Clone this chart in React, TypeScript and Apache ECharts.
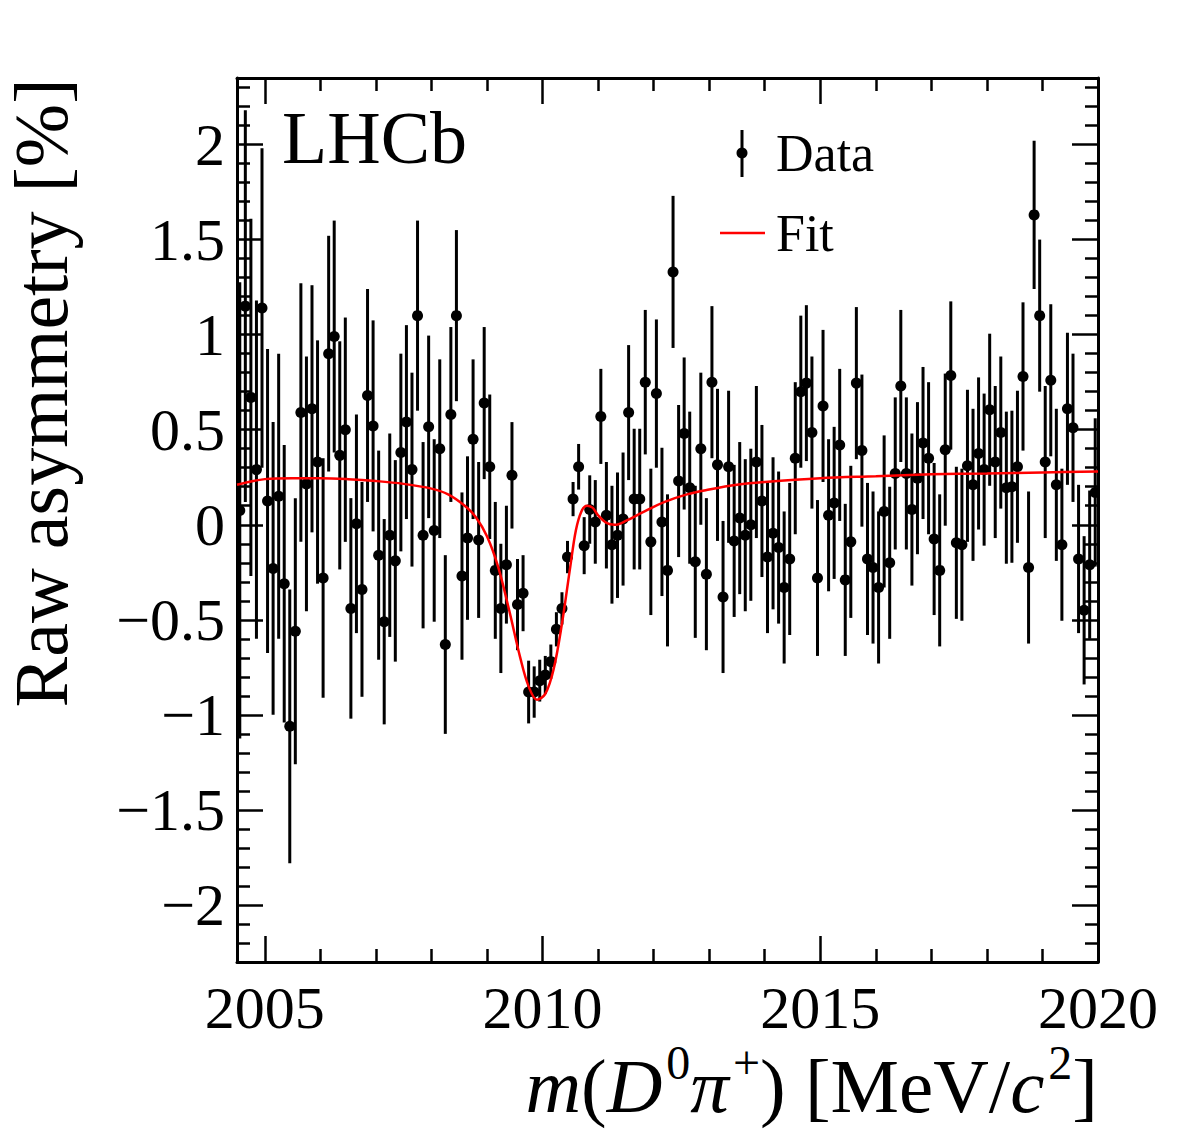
import React, { useEffect, useRef } from "react";
import * as echarts from "echarts";

// Bin centres of m(D0 pi+) in MeV/c^2 (0.1 MeV bins)
const massBins = [
  2004.55, 2004.65, 2004.75, 2004.85, 2004.95, 2005.05, 2005.15, 2005.25, 2005.35, 2005.45,
  2005.55, 2005.65, 2005.75, 2005.85, 2005.95, 2006.05, 2006.15, 2006.25, 2006.35, 2006.45,
  2006.55, 2006.65, 2006.75, 2006.85, 2006.95, 2007.05, 2007.15, 2007.25, 2007.35, 2007.45,
  2007.55, 2007.65, 2007.75, 2007.85, 2007.95, 2008.05, 2008.15, 2008.25, 2008.35, 2008.45,
  2008.55, 2008.65, 2008.75, 2008.85, 2008.95, 2009.05, 2009.15, 2009.25, 2009.35, 2009.45,
  2009.55, 2009.65, 2009.75, 2009.85, 2009.95, 2010.05, 2010.15, 2010.25, 2010.35, 2010.45,
  2010.55, 2010.65, 2010.75, 2010.85, 2010.95, 2011.05, 2011.15, 2011.25, 2011.35, 2011.45,
  2011.55, 2011.65, 2011.75, 2011.85, 2011.95, 2012.05, 2012.15, 2012.25, 2012.35, 2012.45,
  2012.55, 2012.65, 2012.75, 2012.85, 2012.95, 2013.05, 2013.15, 2013.25, 2013.35, 2013.45,
  2013.55, 2013.65, 2013.75, 2013.85, 2013.95, 2014.05, 2014.15, 2014.25, 2014.35, 2014.45,
  2014.55, 2014.65, 2014.75, 2014.85, 2014.95, 2015.05, 2015.15, 2015.25, 2015.35, 2015.45,
  2015.55, 2015.65, 2015.75, 2015.85, 2015.95, 2016.05, 2016.15, 2016.25, 2016.35, 2016.45,
  2016.55, 2016.65, 2016.75, 2016.85, 2016.95, 2017.05, 2017.15, 2017.25, 2017.35, 2017.45,
  2017.55, 2017.65, 2017.75, 2017.85, 2017.95, 2018.05, 2018.15, 2018.25, 2018.35, 2018.45,
  2018.55, 2018.65, 2018.75, 2018.85, 2018.95, 2019.05, 2019.15, 2019.25, 2019.35, 2019.45,
  2019.55, 2019.65, 2019.75, 2019.85, 2019.95,
];

// Raw asymmetry per bin [%]
const rawAsym = [
  0.075, 1.15, 0.67, 0.29, 1.14, 0.125, -0.23, 0.15, -0.31, -1.06,
  -0.56, 0.59, 0.215, 0.61, 0.33, -0.28, 0.9, 0.99, 0.365, 0.5,
  -0.44, 0.005, -0.34, 0.68, 0.52, -0.16, -0.51, -0.055, -0.19, 0.38,
  0.54, 0.29, 1.1, -0.055, 0.515, -0.03, 0.4, -0.63, 0.58, 1.1,
  -0.27, -0.07, 0.45, -0.08, 0.64, 0.305, -0.24, -0.44, -0.21, 0.26,
  -0.42, -0.36, -0.88, -0.88, -0.82, -0.79, -0.72, -0.55, -0.44, -0.17,
  0.135, 0.305, -0.11, 0.08, 0.015, 0.57, 0.05, -0.105, -0.055, 0.03,
  0.59, 0.135, 0.135, 0.75, -0.09, 0.69, 0.015, -0.24, 1.33, 0.23,
  0.48, 0.195, -0.195, 0.4, -0.26, 0.75, 0.315, -0.38, 0.305, -0.085,
  0.035, -0.055, 0.0, 0.33, 0.125, -0.17, -0.045, -0.12, -0.33, -0.18,
  0.35, 0.7, 0.745, 0.485, -0.28, 0.625, 0.05, 0.115, 0.42, -0.29,
  -0.09, 0.745, 0.39, -0.18, -0.225, -0.33, 0.07, -0.2, 0.27, 0.73,
  0.27, 0.08, 0.245, 0.43, 0.35, -0.075, -0.24, 0.395, 0.785, -0.095,
  -0.105, 0.31, 0.21, 0.375, 0.29, 0.605, 0.33, 0.485, 0.195, 0.2,
  0.305, 0.78, -0.225, 1.63, 1.1, 0.33, 0.76, 0.21, -0.105, 0.61,
  0.51, -0.18, -0.45, -0.21, 0.17,
];

// Statistical uncertainty per bin [%]
const rawAsymErr = [
  1.2, 1.03, 0.94, 0.89, 0.84, 0.8, 0.77, 0.75, 0.73, 0.72,
  0.7, 0.68, 0.67, 0.65, 0.64, 0.63, 0.62, 0.61, 0.6, 0.59,
  0.58, 0.575, 0.565, 0.56, 0.555, 0.55, 0.54, 0.535, 0.53, 0.52,
  0.51, 0.51, 0.5, 0.49, 0.48, 0.48, 0.47, 0.47, 0.46, 0.45,
  0.44, 0.43, 0.42, 0.41, 0.4, 0.38, 0.36, 0.34, 0.31, 0.28,
  0.24, 0.2, 0.165, 0.135, 0.11, 0.1, 0.09, 0.09, 0.085, 0.085,
  0.09, 0.12, 0.15, 0.18, 0.22, 0.25, 0.28, 0.31, 0.33, 0.35,
  0.355, 0.37, 0.37, 0.38, 0.385, 0.39, 0.39, 0.4, 0.4, 0.4,
  0.4, 0.4, 0.4, 0.4, 0.4, 0.4, 0.4, 0.4, 0.4, 0.4,
  0.4, 0.4, 0.4, 0.4, 0.4, 0.4, 0.4, 0.4, 0.4, 0.4,
  0.4, 0.4, 0.41, 0.4, 0.41, 0.4, 0.4, 0.4, 0.4, 0.4,
  0.4, 0.4, 0.4, 0.4, 0.4, 0.4, 0.4, 0.4, 0.4, 0.4,
  0.4, 0.4, 0.4, 0.4, 0.4, 0.4, 0.4, 0.4, 0.39, 0.4,
  0.4, 0.4, 0.4, 0.4, 0.4, 0.4, 0.4, 0.4, 0.4, 0.4,
  0.4, 0.39, 0.4, 0.39, 0.4, 0.4, 0.4, 0.4, 0.4, 0.4,
  0.39, 0.39, 0.39, 0.39, 0.39,
];

// Fit curve sampled along the mass axis
const fitMass = [
  2004.5, 2005.0, 2005.5, 2006.0, 2006.5, 2007.0, 2007.5, 2008.0, 2008.3, 2008.6,
  2008.8, 2009.0, 2009.2, 2009.4, 2009.6, 2009.75, 2009.9, 2010.05, 2010.2, 2010.35,
  2010.5, 2010.6, 2010.7, 2010.8, 2010.9, 2011.0, 2011.15, 2011.3, 2011.5, 2011.8,
  2012.2, 2012.6, 2013.0, 2013.5, 2014.0, 2015.0, 2016.0, 2017.0, 2018.0, 2019.0,
  2020.0,
];
const fitAsym = [
  0.21, 0.24, 0.245, 0.245, 0.24, 0.23, 0.215, 0.19, 0.16, 0.1,
  0.04, -0.06, -0.22, -0.45, -0.7, -0.85, -0.92, -0.89, -0.76, -0.52,
  -0.22, -0.03, 0.07, 0.1, 0.09, 0.05, 0.01, 0.0, 0.02, 0.065,
  0.12, 0.16, 0.185, 0.21, 0.225, 0.245, 0.255, 0.265, 0.27, 0.275,
  0.28,
];

const SERIF = "'Liberation Serif', 'Times New Roman', serif";

const fmtY = (v: number) => {
  if (Math.abs(v * 2 - Math.round(v * 2)) > 1e-6) return "";
  if (Math.abs(v) < 1e-9) return "0";
  const s = String(Math.abs(Math.round(v * 10) / 10));
  return v < 0 ? "\u2212" + s : s;
};
const fmtX = (v: number) => (Math.abs(v % 5) < 1e-6 ? String(Math.round(v)) : "");

function frameAxis(extra: any) {
  return {
    type: "value",
    axisLine: { show: true, onZero: false, lineStyle: { color: "#000", width: 3 } },
    axisTick: { show: true, inside: true, length: 26, lineStyle: { color: "#000", width: 2.5 } },
    minorTick: { show: true, splitNumber: 5, length: 13, lineStyle: { color: "#000", width: 2.5 } },
    splitLine: { show: false },
    minorSplitLine: { show: false },
    ...extra,
  };
}

export default function App() {
  const ref = useRef<HTMLDivElement>(null);

  useEffect(() => {
    if (!ref.current) return;
    const chart = echarts.init(ref.current, undefined, { renderer: "svg" });

    const points = massBins.map((m, i) => [m, rawAsym[i], rawAsymErr[i]]);
    const fit = fitMass.map((m, i) => [m, fitAsym[i]]);

    const xCommon = { min: 2004.5, max: 2020, splitNumber: 3, minInterval: 5, maxInterval: 5 };
    const yCommon = { min: -2.3, max: 2.35, splitNumber: 9, minInterval: 0.5, maxInterval: 0.5 };

    chart.setOption({
      animation: false,
      backgroundColor: "#fff",
      grid: { left: 237, right: 84, top: 78, bottom: 184, containLabel: false },
      xAxis: [
        frameAxis({
          ...xCommon,
          position: "bottom",
          axisLabel: {
            show: true,
            formatter: fmtX,
            fontSize: 60,
            lineHeight: 50,
            fontFamily: SERIF,
            color: "#000",
            margin: 21,
          },
        }),
        frameAxis({ ...xCommon, position: "top", axisLabel: { show: false } }),
      ],
      yAxis: [
        frameAxis({
          ...yCommon,
          position: "left",
          axisLabel: {
            show: true,
            formatter: fmtY,
            fontSize: 60,
            fontFamily: SERIF,
            color: "#000",
            margin: 12,
          },
        }),
        frameAxis({ ...yCommon, position: "right", axisLabel: { show: false } }),
      ],
      series: [
        {
          name: "Data",
          type: "custom",
          xAxisIndex: 0,
          yAxisIndex: 0,
          clip: true,
          z: 2,
          data: points,
          encode: { x: 0, y: 1 },
          renderItem: (_params: any, api: any) => {
            const x = api.value(0);
            const y = api.value(1);
            const e = api.value(2);
            const c = api.coord([x, y]);
            const hi = api.coord([x, y + e]);
            const lo = api.coord([x, y - e]);
            return {
              type: "group",
              children: [
                {
                  type: "line",
                  shape: { x1: c[0], y1: hi[1], x2: c[0], y2: lo[1] },
                  style: { stroke: "#000", lineWidth: 3 },
                },
                {
                  type: "circle",
                  shape: { cx: c[0], cy: c[1], r: 5.5 },
                  style: { fill: "#000" },
                },
              ],
            };
          },
        },
        {
          name: "Fit",
          type: "line",
          xAxisIndex: 0,
          yAxisIndex: 0,
          z: 3,
          data: fit,
          showSymbol: false,
          symbol: "none",
          smooth: 0.35,
          lineStyle: { color: "#ff0000", width: 2.5 },
        },
      ],
      graphic: [
        {
          type: "text",
          left: 282,
          top: 101,
          style: { text: "LHCb", font: `74px ${SERIF}`, fill: "#000" },
        },
        // legend: Data
        {
          type: "line",
          shape: { x1: 742, y1: 130, x2: 742, y2: 177 },
          style: { stroke: "#000", lineWidth: 3 },
        },
        { type: "circle", shape: { cx: 742, cy: 153, r: 5.5 }, style: { fill: "#000" } },
        {
          type: "text",
          x: 776,
          y: 153,
          style: { text: "Data", font: `52px ${SERIF}`, fill: "#000", textVerticalAlign: "middle" },
        },
        // legend: Fit
        {
          type: "line",
          shape: { x1: 720, y1: 233, x2: 765, y2: 233 },
          style: { stroke: "#ff0000", lineWidth: 2.5 },
        },
        {
          type: "text",
          x: 776,
          y: 233,
          style: { text: "Fit", font: `52px ${SERIF}`, fill: "#000", textVerticalAlign: "middle" },
        },
        // y-axis title
        {
          type: "text",
          x: 41,
          y: 393,
          rotation: Math.PI / 2,
          style: {
            text: "Raw asymmetry [%]",
            font: `76px ${SERIF}`,
            lineHeight: 66,
            fill: "#000",
            textAlign: "center",
            textVerticalAlign: "middle",
          },
        },
        // x-axis title
        {
          type: "text",
          right: 84,
          top: 1038,
          style: {
            text: "{i|m}{n|(}{i|D}{s|0}{i|\u03c0}{s|+}{n|) [MeV/}{i|c}{s|2}{n|]}",
            fill: "#000",
            rich: {
              n: { fontSize: 77, fontFamily: SERIF, fill: "#000", verticalAlign: "bottom", lineHeight: 72 },
              i: {
                fontSize: 77,
                fontFamily: SERIF,
                fontStyle: "italic",
                fill: "#000",
                verticalAlign: "bottom",
                lineHeight: 72,
              },
              s: {
                fontSize: 48,
                fontFamily: SERIF,
                fill: "#000",
                verticalAlign: "top",
                height: 20,
                lineHeight: 20,
                padding: [0, 0, 0, 4],
              },
            },
          },
        },
      ],
    });

    return () => chart.dispose();
  }, []);

  return (
    <div
      ref={ref}
      style={{ position: "absolute", left: 0, top: 0, width: 1182, height: 1146, background: "#fff" }}
    />
  );
}
